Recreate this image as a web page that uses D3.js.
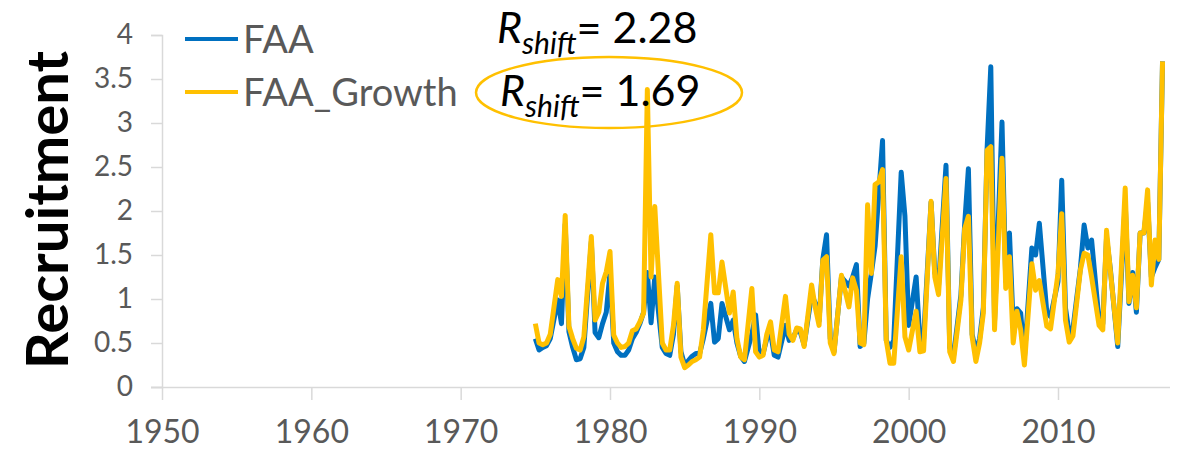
<!DOCTYPE html>
<html>
<head>
<meta charset="utf-8">
<script src="https://cdn.jsdelivr.net/npm/d3@7"></script>
<style>
  body { margin: 0; background: #fff; }
  text { font-family: Lato, "Open Sans", sans-serif; }
</style>
</head>
<body>
<div id="chart"></div>
<script>
// Data (irregular time stamps at each vertex)
var years = [1975.0,1975.25,1975.5,1975.75,1976.0,1976.5,1976.75,1977.0,1977.25,1977.5,1977.75,1978.0,1978.25,1978.75,
  1979.0,1979.25,1979.5,1979.75,1980.0,1980.25,1980.5,1980.75,1981.0,1981.25,1981.5,1981.75,1982.0,1982.25,1982.5,1982.75,
  1983.0,1983.5,1983.75,1984.0,1984.25,1984.5,1984.75,1985.0,1985.25,1985.5,1985.75,1986.0,1986.25,1986.75,1987.0,1987.25,
  1987.5,1988.0,1988.25,1988.5,1988.75,1989.0,1989.5,1989.75,1990.0,1990.25,1990.5,1990.75,1991.0,1991.25,1991.75,1992.0,
  1992.25,1992.5,1992.75,1993.0,1993.5,1993.75,1994.0,1994.25,1994.5,1994.75,1995.0,1995.5,1996.0,1996.25,1996.5,1996.75,
  1997.0,1997.25,1997.5,1997.75,1998.0,1998.25,1998.5,1998.75,1999.0,1999.5,1999.75,2000.0,2000.5,2000.75,2001.0,2001.5,
  2001.75,2002.0,2002.5,2002.75,2003.0,2003.5,2003.75,2004.0,2004.25,2004.5,2004.75,2005.0,2005.25,2005.5,2005.75,2006.25,
  2006.5,2006.75,2007.0,2007.25,2007.5,2007.75,2008.25,2008.5,2008.75,2009.25,2009.5,2010.0,2010.25,2010.5,2010.75,2011.0,
  2011.5,2011.75,2012.0,2012.25,2012.75,2013.0,2013.25,2013.5,2014.0,2014.5,2014.75,2015.0,2015.25,2015.5,2015.75,2016.0,
  2016.25,2016.5,2016.75,2017.0];

var faa = [0.55,0.42,0.45,0.47,0.55,0.99,0.72,1.85,0.63,0.45,0.31,0.32,0.45,1.65,
  0.62,0.56,0.72,0.85,1.30,0.50,0.40,0.36,0.36,0.42,0.55,0.62,0.72,0.85,1.30,0.73,
  1.25,0.45,0.38,0.36,0.60,1.15,0.40,0.25,0.30,0.35,0.38,0.38,0.55,0.95,0.51,0.55,
  0.95,0.65,0.76,0.50,0.35,0.29,0.60,0.82,0.36,0.38,0.55,0.62,0.36,0.34,0.70,0.53,
  0.55,0.65,0.62,0.48,1.05,0.95,0.75,1.45,1.73,0.55,0.40,1.25,1.15,1.25,1.39,0.46,
  0.50,1.00,1.29,1.60,2.20,2.80,0.53,0.45,0.53,2.44,1.94,0.70,1.25,0.53,0.55,2.10,
  1.30,1.15,2.52,0.45,0.35,1.05,1.85,2.48,0.60,0.40,0.55,0.90,2.70,3.64,0.75,3.01,
  1.20,1.75,0.70,0.89,0.84,0.33,1.58,1.50,1.86,0.85,0.80,1.20,2.35,0.90,0.61,0.66,
  1.35,1.84,1.58,1.67,0.75,0.72,1.70,1.35,0.46,2.10,0.95,1.30,0.85,1.75,1.75,2.10,
  1.25,1.36,1.45,3.70];

var faaGrowth = [0.72,0.50,0.48,0.50,0.60,1.22,1.03,1.95,0.69,0.55,0.44,0.42,0.57,1.71,
  0.76,0.85,1.18,1.31,1.54,0.59,0.50,0.45,0.46,0.50,0.64,0.66,0.74,0.84,3.38,1.25,
  2.05,0.50,0.42,0.42,0.70,1.18,0.34,0.22,0.25,0.29,0.31,0.34,0.65,1.73,1.07,1.07,
  1.42,0.84,1.08,0.55,0.34,0.31,1.12,0.40,0.34,0.36,0.60,0.74,0.42,0.40,1.03,0.60,
  0.53,0.67,0.66,0.46,1.16,0.90,0.70,1.44,1.48,0.50,0.38,1.27,0.91,1.24,1.10,0.50,
  0.48,2.07,1.29,2.30,2.33,2.47,0.53,0.27,0.27,1.48,0.57,0.42,0.86,0.40,0.41,2.11,
  1.25,1.05,2.37,0.40,0.29,0.99,1.80,1.94,0.57,0.29,0.50,0.84,2.69,2.73,0.65,2.60,
  1.12,1.48,0.50,0.86,0.65,0.25,1.40,1.10,1.21,0.69,0.66,1.29,1.97,0.76,0.51,0.58,
  1.33,1.52,1.50,1.25,0.70,0.65,1.78,1.33,0.50,2.26,0.97,1.27,0.90,1.75,1.75,2.24,
  1.16,1.67,1.45,3.70];

var xTicks = [1950, 1960, 1970, 1980, 1990, 2000, 2010];
var yTicks = [0, 0.5, 1, 1.5, 2, 2.5, 3, 3.5, 4];
var seriesNames = ["FAA", "FAA_Growth"];
var rshiftValues = ["2.28", "1.69"];

var W = 1189, H = 452;
var blue = "#0070C0", gold = "#FFC000", grey = "#595959", axisGrey = "#D9D9D9";

var svg = d3.select("#chart").append("svg")
    .attr("width", W)
    .attr("height", H);

var x = d3.scaleLinear().domain([1950, 2017.5]).range([162, 1170]);
var y = d3.scaleLinear().domain([0, 4]).range([387, 35]);

// Y axis
var yAxis = svg.append("g")
    .attr("transform", "translate(162,0)")
    .call(d3.axisLeft(y).tickValues(yTicks).tickSize(11).tickPadding(18)
      .tickFormat(function(d) { return d; }));
yAxis.select(".domain").attr("stroke", axisGrey).attr("stroke-width", 1.5);
yAxis.selectAll(".tick line").attr("stroke", axisGrey).attr("stroke-width", 1.5);
yAxis.selectAll(".tick text")
    .attr("fill", grey)
    .style("font-size", "28px");

// X axis
var xAxis = svg.append("g")
    .attr("transform", "translate(0,387)")
    .call(d3.axisBottom(x).tickValues(xTicks).tickSize(13).tickPadding(20)
      .tickFormat(d3.format("d")));
xAxis.select(".domain").attr("stroke", axisGrey).attr("stroke-width", 1.5)
    .attr("d", "M151,0.5H1170");
xAxis.selectAll(".tick line").attr("stroke", axisGrey).attr("stroke-width", 1.5);
xAxis.selectAll(".tick text")
    .attr("fill", grey)
    .style("font-size", "32px");

// Lines
var line = d3.line()
    .x(function(d, i) { return x(years[i]); })
    .y(function(d) { return y(d); });

svg.append("path")
    .datum(faa)
    .attr("fill", "none")
    .attr("stroke", blue)
    .attr("stroke-width", 5)
    .attr("stroke-linejoin", "round")
    .attr("d", line);

svg.append("path")
    .datum(faaGrowth)
    .attr("fill", "none")
    .attr("stroke", gold)
    .attr("stroke-width", 5)
    .attr("stroke-linejoin", "round")
    .attr("d", line);

// Y axis title
svg.append("text")
    .attr("transform", "translate(68," + 210 + ") rotate(-90)")
    .style("text-anchor", "middle")
    .style("font-size", "58px")
    .style("font-weight", "bold")
    .attr("fill", "#000")
    .text("Recruitment");

// Legend
var legend = svg.append("g");
[blue, gold].forEach(function(c, i) {
  var ly = 39 + i * 53;
  legend.append("line")
      .attr("x1", 185).attr("x2", 238)
      .attr("y1", ly).attr("y2", ly)
      .attr("stroke", c).attr("stroke-width", 4);
  legend.append("text")
      .attr("x", 243).attr("y", ly + 14)
      .attr("fill", grey)
      .style("font-size", "38px")
      .text(seriesNames[i]);
});

// R_shift annotations
rshiftValues.forEach(function(v, i) {
  var t = svg.append("text")
      .attr("x", 497 + i * 3)
      .attr("y", 43 + i * 63)
      .attr("fill", "#000")
      .style("font-size", "43px");
  t.append("tspan").style("font-style", "italic").text("R");
  t.append("tspan").style("font-style", "italic").style("font-size", "30px")
      .attr("dy", 11).text("shift");
  t.append("tspan").attr("dy", -11).text("= " + v);
});

svg.append("ellipse")
    .attr("cx", 609).attr("cy", 92.5)
    .attr("rx", 133).attr("ry", 35.5)
    .attr("fill", "none")
    .attr("stroke", gold)
    .attr("stroke-width", 2.5);
</script>
</body>
</html>
